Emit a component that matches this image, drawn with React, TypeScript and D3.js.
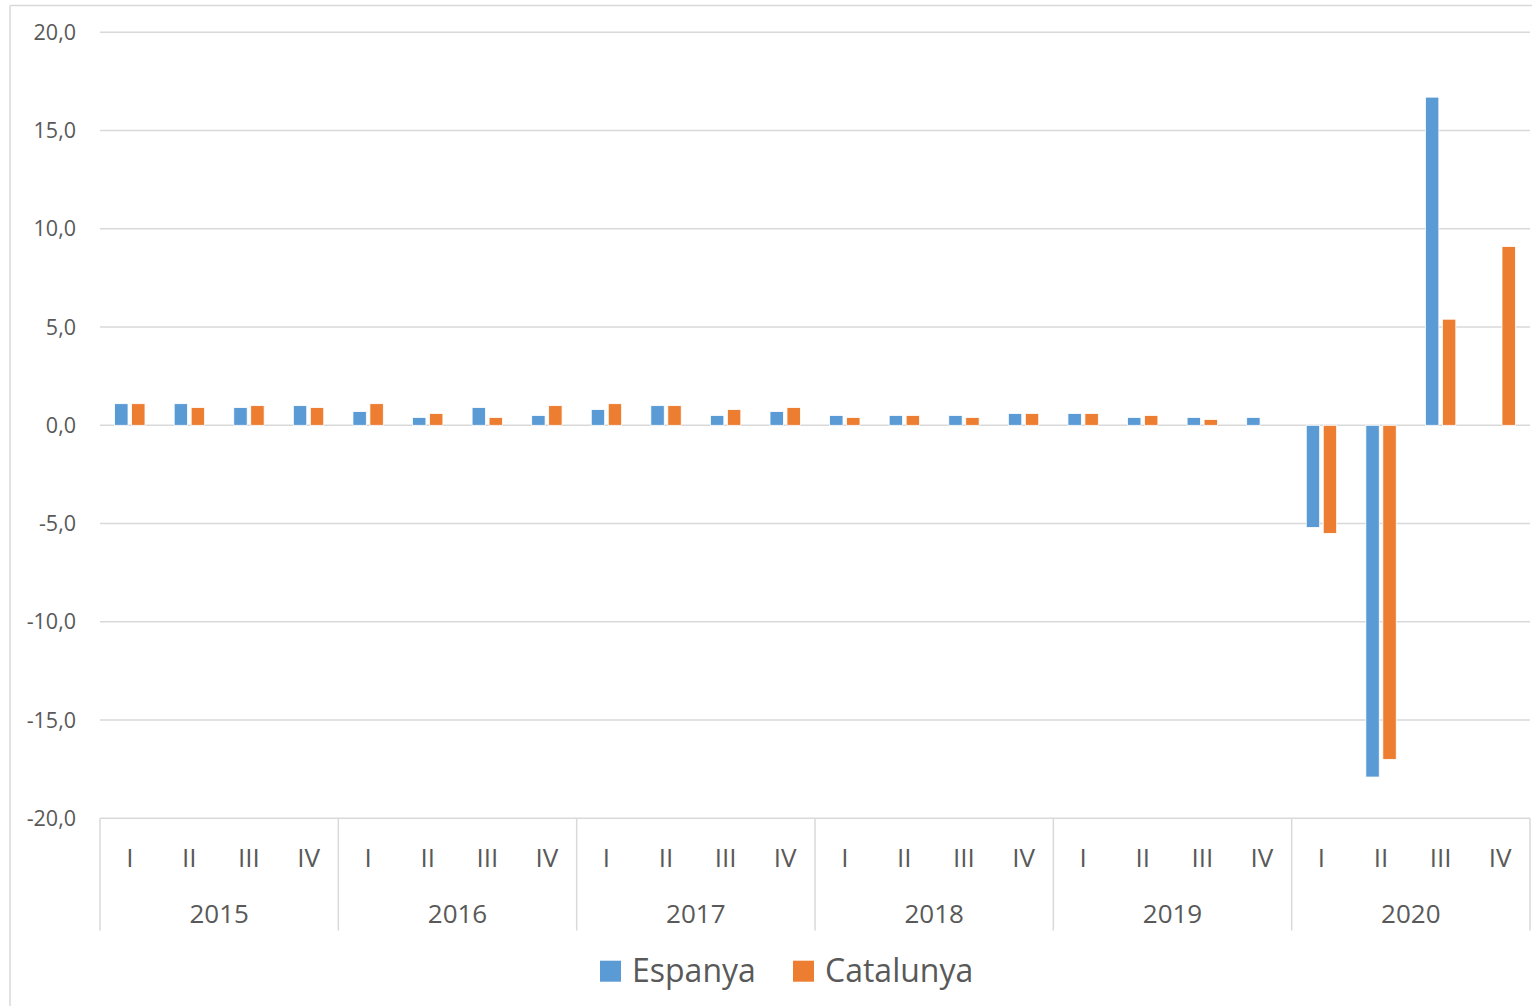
import React, { useMemo } from 'react';
import * as d3 from 'd3';

const W = 1532;
const H = 1006;

// ─── data ──────────────────────────────────────────────────────────────────
const years = ['2015', '2016', '2017', '2018', '2019', '2020'];
const quarters = ['I', 'II', 'III', 'IV'];

// quarterly change (%), one value per quarter, 2015-I .. 2020-IV
const espanya: (number | null)[] = [
  1.1, 1.1, 0.9, 1.0,
  0.7, 0.4, 0.9, 0.5,
  0.8, 1.0, 0.5, 0.7,
  0.5, 0.5, 0.5, 0.6,
  0.6, 0.4, 0.4, 0.4,
  -5.2, -17.9, 16.7, null,
];
const catalunya: (number | null)[] = [
  1.1, 0.9, 1.0, 0.9,
  1.1, 0.6, 0.4, 1.0,
  1.1, 1.0, 0.8, 0.9,
  0.4, 0.5, 0.4, 0.6,
  0.6, 0.5, 0.3, null,
  -5.5, -17.0, 5.4, 9.1,
];

const series = [
  { key: 'Espanya', values: espanya, color: '#5B9BD5' },
  { key: 'Catalunya', values: catalunya, color: '#ED7D31' },
];

const yTicks = [20, 15, 10, 5, 0, -5, -10, -15, -20];

const FONT = '"Open Sans", "Noto Sans", sans-serif';
const GRID = '#D9D9D9';
const TEXT = '#595959';

const App: React.FC = () => {
  const cats = useMemo(
    () => years.flatMap(y => quarters.map(q => `${y}-${q}`)),
    [],
  );

  const plot = { left: 100, right: 1530, top: 32.3, bottom: 818.3 };

  const y = d3.scaleLinear().domain([-20, 20]).range([plot.bottom, plot.top]);
  const x0 = d3
    .scaleBand<string>()
    .domain(cats)
    .range([plot.left, plot.right])
    .paddingInner(0.49)
    .paddingOuter(0.245);
  const x1 = d3
    .scaleBand<string>()
    .domain(series.map(s => s.key))
    .range([0, x0.bandwidth()])
    .paddingInner(0.21);
  const yearW = x0.step() * quarters.length;
  const fmt = (v: number) => v.toFixed(1).replace('.', ',');

  return (
    <svg
      width={W}
      height={H}
      style={{ position: 'absolute', left: 0, top: 0, background: '#fff' }}
      fontFamily={FONT}
    >
      {/* chart area frame */}
      <line x1={10} x2={W} y1={5.5} y2={5.5} stroke={GRID} strokeWidth={1.5} />
      <line x1={10} x2={10} y1={5.5} y2={H} stroke={GRID} strokeWidth={1.5} />

      {/* gridlines + y labels */}
      {yTicks.map(t => (
        <g key={t}>
          <line x1={plot.left} x2={plot.right} y1={y(t)} y2={y(t)} stroke={GRID} strokeWidth={1.5} />
          <text x={76} y={y(t) + 7.5} textAnchor="end" fontSize={21.5} fill={TEXT}>
            {fmt(t)}
          </text>
        </g>
      ))}

      {/* bars */}
      {series.map(s => (
        <g key={s.key}>
          {s.values.map((v, i) => {
            if (v == null) return null;
            const bx = (x0(cats[i]) ?? 0) + (x1(s.key) ?? 0);
            const y0 = y(0);
            const yv = y(v);
            return (
              <rect
                key={i}
                x={bx}
                y={Math.min(y0, yv)}
                width={x1.bandwidth()}
                height={Math.abs(yv - y0)}
                fill={s.color}
                stroke="#fff"
                strokeWidth={0.8}
              />
            );
          })}
        </g>
      ))}

      {/* category axis: quarters and years */}
      {years.map((yr, yi) => {
        const x = plot.left + yi * yearW;
        return (
          <g key={yr}>
            <line x1={x} x2={x} y1={plot.bottom} y2={930.5} stroke={GRID} strokeWidth={1.5} />
            <text x={x + yearW / 2} y={922.5} textAnchor="middle" fontSize={26} fill={TEXT}>
              {yr}
            </text>
          </g>
        );
      })}
      <line x1={plot.right} x2={plot.right} y1={plot.bottom} y2={930.5} stroke={GRID} strokeWidth={1.5} />
      {cats.map(c => (
        <text
          key={c}
          x={(x0(c) ?? 0) + x0.bandwidth() / 2}
          y={866.5}
          textAnchor="middle"
          fontSize={26}
          fill={TEXT}
        >
          {c.split('-')[1]}
        </text>
      ))}

      {/* legend */}
      {series.map((s, i) => {
        const lx = [600, 793][i];
        return (
          <g key={s.key}>
            <rect x={lx} y={960.7} width={21} height={21} fill={s.color} />
            <text x={lx + 32} y={982} fontSize={32} fill={TEXT}>
              {s.key}
            </text>
          </g>
        );
      })}
    </svg>
  );
};

export default App;
